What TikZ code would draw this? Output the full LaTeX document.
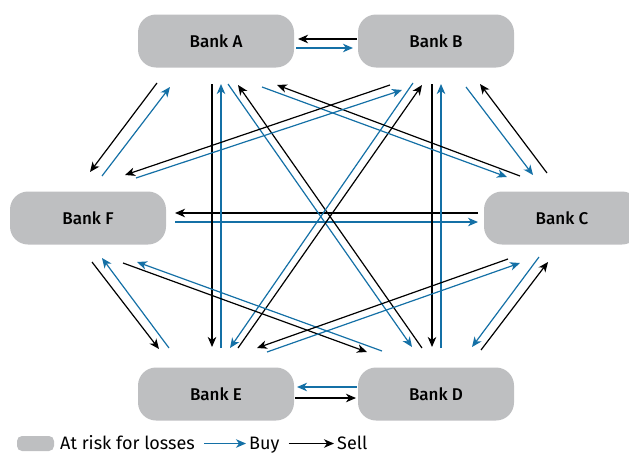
\documentclass[tikz,border=0pt]{standalone}
\usepackage{fontspec}
\setmainfont{Fira Sans}
\newfontfamily\bankfont{Fira Sans Medium}
\usetikzlibrary{arrows.meta,calc}

\definecolor{buyblue}{RGB}{20,112,166}
\definecolor{riskgray}{RGB}{190,191,193}

\tikzset{
  bank/.style={fill=riskgray, rounded corners=18pt, minimum width=156pt,
    minimum height=53pt, inner sep=0pt, font=\bankfont\fontsize{17}{20}\selectfont},
  tip/.style={-{Stealth[length=10pt,width=8.5pt,inset=3pt]}},
  buy/.style={buyblue, line width=1.2pt, tip},
  sell/.style={black, line width=1.2pt, tip},
  keytext/.style={anchor=base west, inner sep=0pt, font=\fontsize{18}{21}\selectfont},
}

\begin{document}
\begin{tikzpicture}[x=1pt, y=-1pt]
\useasboundingbox (0,0) rectangle (629,455);

\node[bank] (A) at (216,41) {Bank A};
\node[bank] (B) at (436,41) {Bank B};
\node[bank] (C) at (562,218) {Bank C};
\node[bank] (D) at (436,394) {Bank D};
\node[bank] (E) at (216,394) {Bank E};
\node[bank] (F) at (88,218) {Bank F};

% top, middle and bottom rows
\draw[sell] ($(B)+(-79,-2)$) -- ($(A)+(82,-2)$);
\draw[buy] ($(A)+(80,7)$) -- ($(B)+(-83,7)$);
\draw[sell] ($(C)+(-84,-5)$) -- ($(F)+(87,-5)$);
\draw[buy] ($(F)+(87,4)$) -- ($(C)+(-84,4)$);
\draw[buy] ($(D)+(-79,-7)$) -- ($(E)+(81,-7)$);
\draw[sell] ($(E)+(79,4)$) -- ($(D)+(-80,4)$);

% sides
\draw[sell] ($(A)+(-59,42)$) -- ($(F)+(2,-46)$);
\draw[buy] ($(F)+(14,-42)$) -- ($(A)+(-46,46)$);
\draw[buy] ($(B)+(30,46)$) -- ($(C)+(-29,-43)$);
\draw[sell] ($(C)+(-15,-45)$) -- ($(B)+(44,43)$);
\draw[buy] ($(C)+(-23,39)$) -- ($(D)+(36,-47)$);
\draw[sell] ($(D)+(45,-44)$) -- ($(C)+(-14,44)$);
\draw[sell] ($(F)+(4,44)$) -- ($(E)+(-57,-45)$);
\draw[buy] ($(E)+(-47,-46)$) -- ($(F)+(14,40)$);

% verticals
\draw[sell] ($(A)+(-4,43)$) -- ($(E)+(-4,-47)$);
\draw[buy] ($(E)+(5,-46)$) -- ($(A)+(5,43)$);
\draw[sell] ($(B)+(-4,43)$) -- ($(D)+(-4,-47)$);
\draw[buy] ($(D)+(5,-46)$) -- ($(B)+(5,43)$);

% crossings
\draw[buy] ($(A)+(12,43)$) -- ($(D)+(-24,-47)$);
\draw[sell] ($(D)+(-14,-46)$) -- ($(A)+(22,44)$);
\draw[buy] ($(B)+(-23,42)$) -- ($(E)+(14,-46)$);
\draw[sell] ($(E)+(22,-46)$) -- ($(B)+(-14,44)$);
\draw[buy] ($(A)+(46,46)$) -- ($(C)+(-55,-41)$);
\draw[sell] ($(C)+(-42,-42)$) -- ($(A)+(61,44)$);
\draw[sell] ($(B)+(-46,44)$) -- ($(F)+(37,-43)$);
\draw[buy] ($(F)+(48,-40)$) -- ($(B)+(-34,49)$);
\draw[sell] ($(F)+(35,45)$) -- ($(D)+(-69,-42)$);
\draw[buy] ($(D)+(-54,-43)$) -- ($(F)+(49,44)$);
\draw[sell] ($(C)+(-54,41)$) -- ($(E)+(41,-46)$);
\draw[buy] ($(E)+(51,-42)$) -- ($(C)+(-42,45)$);

% legend
\node[fill=riskgray, rounded corners=5pt, minimum width=37pt, minimum height=15pt,
  inner sep=0pt] (riskkey) at (35.5,443.5) {};
\node[keytext] (risktext) at (60,449.5) {At risk for losses};
\node[keytext] (buytext) at (249,449.5) {Buy};
\node[keytext] (selltext) at (337,449.5) {Sell};
\draw[buy, shorten <=9pt, shorten >=3pt] (risktext.east |- riskkey) -- (buytext.west |- riskkey);
\draw[sell, shorten <=9pt, shorten >=3pt] (buytext.east |- riskkey) -- (selltext.west |- riskkey);
\end{tikzpicture}
\end{document}
